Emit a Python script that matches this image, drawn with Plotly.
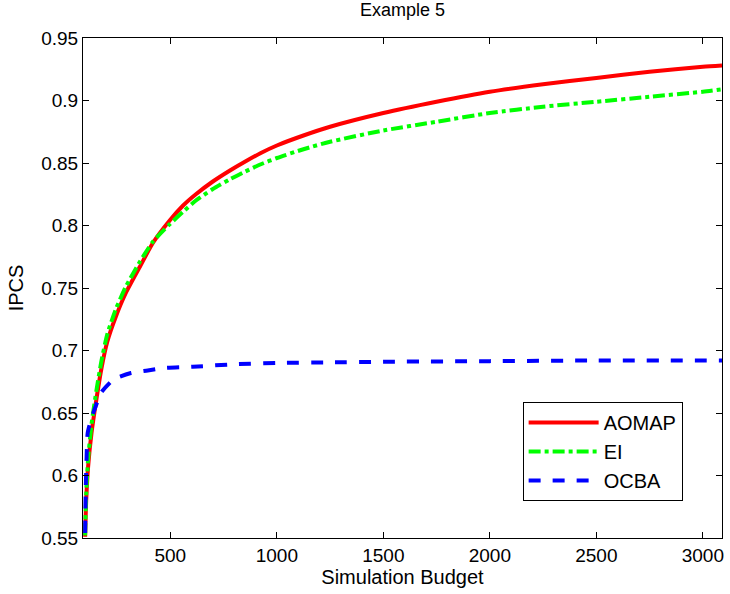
import plotly.graph_objects as go

# Simulation budget sample points
budget_aomap = [100, 105, 114, 130, 153, 177, 204, 244, 291, 357, 418, 497, 560, 620, 698, 780,
                850, 925, 1000, 1125, 1250, 1500, 1750, 2000, 2250, 2500, 2750, 3000, 3090]
ipcs_aomap = [0.551, 0.580, 0.607, 0.634, 0.661, 0.686, 0.707, 0.727, 0.746, 0.767, 0.786, 0.804,
              0.816, 0.825, 0.835, 0.844, 0.851, 0.858, 0.864, 0.872, 0.879, 0.890, 0.899, 0.907,
              0.913, 0.918, 0.923, 0.927, 0.928]

budget_ei = [100, 105, 114, 130, 153, 177, 204, 244, 291, 357, 418, 497, 560, 620, 698, 780,
             850, 925, 1000, 1125, 1250, 1500, 1750, 2000, 2250, 2500, 2750, 3000, 3090]
ipcs_ei = [0.552, 0.585, 0.613, 0.641, 0.668, 0.692, 0.713, 0.733, 0.751, 0.771, 0.787, 0.801,
           0.811, 0.820, 0.829, 0.837, 0.843, 0.849, 0.854, 0.861, 0.867, 0.876, 0.883, 0.890,
           0.895, 0.899, 0.903, 0.907, 0.909]

budget_ocba = [100, 103, 107, 112, 130, 151, 174, 235, 315, 394, 469, 605, 800,
               1000, 1250, 1500, 2000, 2500, 3090]
ipcs_ocba = [0.554, 0.590, 0.615, 0.634, 0.646, 0.656, 0.666, 0.677, 0.682, 0.684, 0.686, 0.687,
             0.689, 0.690, 0.6905, 0.691, 0.6915, 0.692, 0.692]

x_ticks = [500, 1000, 1500, 2000, 2500, 3000]
y_ticks = [0.55, 0.6, 0.65, 0.7, 0.75, 0.8, 0.85, 0.9, 0.95]
y_tick_text = ["0.55", "0.6", "0.65", "0.7", "0.75", "0.8", "0.85", "0.9", "0.95"]

FONT = "Liberation Sans, Arial, Helvetica, sans-serif"

fig = go.Figure()
fig.add_trace(go.Scatter(x=budget_aomap, y=ipcs_aomap, mode="lines", name="AOMAP",
                         line=dict(color="#FF0000", width=4, shape="spline", smoothing=0.6)))
fig.add_trace(go.Scatter(x=budget_ei, y=ipcs_ei, mode="lines", name="EI",
                         line=dict(color="#00FF00", width=4, dash="dashdot", shape="spline", smoothing=0.6)))
fig.add_trace(go.Scatter(x=budget_ocba, y=ipcs_ocba, mode="lines", name="OCBA",
                         line=dict(color="#0000FF", width=4, dash="dash", shape="spline", smoothing=0.6)))

axis_common = dict(showline=True, linecolor="black", linewidth=1, mirror="ticks",
                   ticks="inside", ticklen=6, tickcolor="black", tickwidth=1,
                   showgrid=False, zeroline=False,
                   tickfont=dict(family=FONT, size=19, color="black"))

fig.update_layout(
    width=730, height=594,
    margin=dict(l=83, r=6, t=38, b=56),
    paper_bgcolor="white", plot_bgcolor="white",
    title=dict(text="Example 5", x=0.5, xref="paper", xanchor="center", y=0.995, yanchor="top",
               font=dict(family=FONT, size=18, color="black")),
    xaxis=dict(range=[90, 3090], tickvals=x_ticks, ticktext=[str(v) for v in x_ticks],
               title=dict(text="Simulation Budget", font=dict(family=FONT, size=20, color="black"),
                          standoff=2),
               **axis_common),
    yaxis=dict(range=[0.55, 0.95], tickvals=y_ticks, ticktext=y_tick_text,
               title=dict(text="IPCS", font=dict(family=FONT, size=20, color="black"),
                          standoff=12),
               **axis_common),
    legend=dict(x=0.688, xanchor="left", y=0.074, yanchor="bottom",
                bordercolor="black", borderwidth=1, bgcolor="white",
                font=dict(family=FONT, size=20, color="black"),
                itemwidth=70, tracegroupgap=0),
    showlegend=True,
)

fig.write_html("out.html")
